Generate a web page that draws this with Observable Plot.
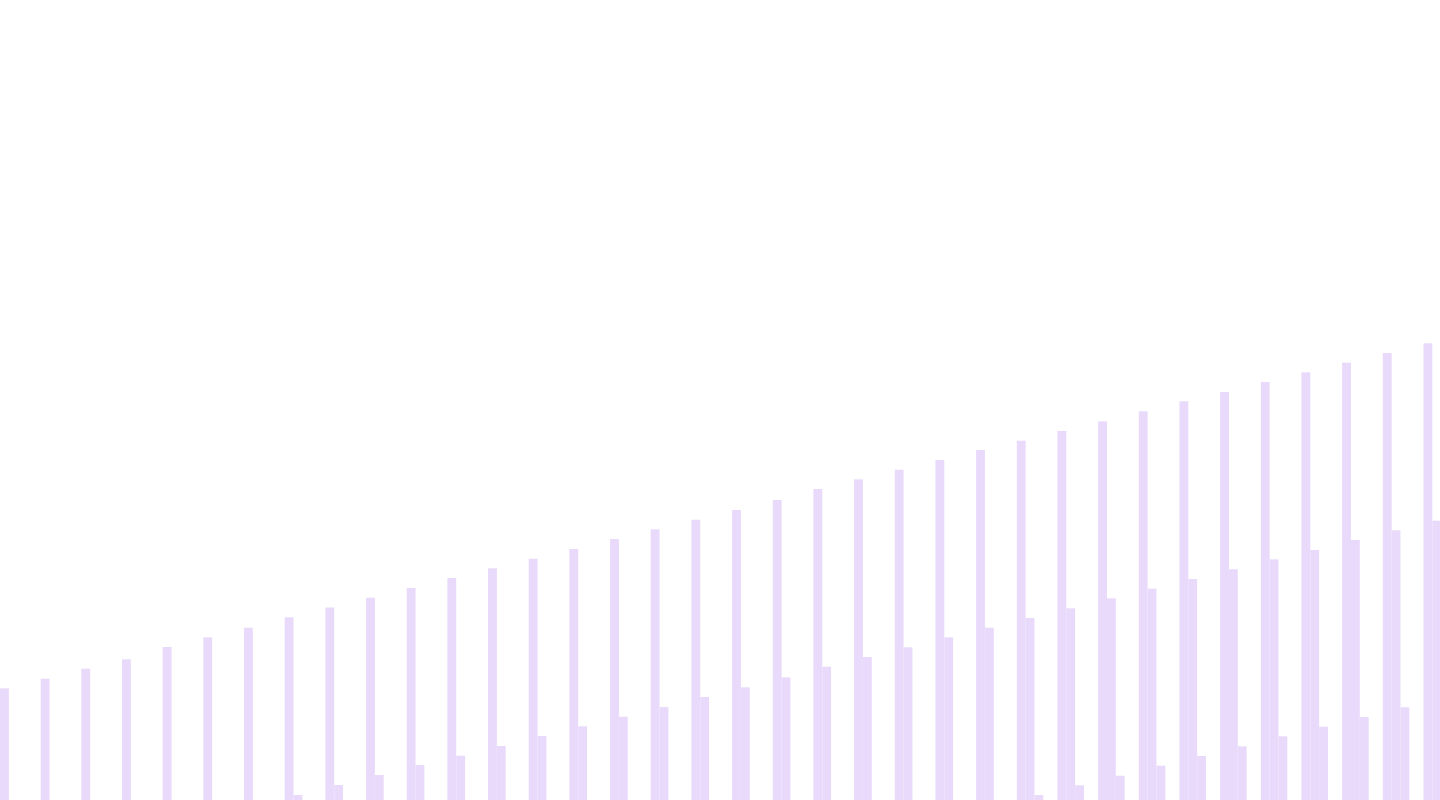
<!DOCTYPE html>
<html>
<head>
<meta charset="utf-8">
<script src="https://cdn.jsdelivr.net/npm/d3@7"></script>
<script src="https://cdn.jsdelivr.net/npm/@observablehq/plot@0.6"></script>
<style>
  html, body { margin: 0; padding: 0; background: #ffffff; overflow: hidden; width: 1440px; height: 800px; }
  #chart svg { display: block; max-width: none !important; }
</style>
</head>
<body>
<div id="chart"></div>
<script>
const groups = [1,2,3,4,5,6,7,8,9,10,11,12,13,14,15,16,17,18,19,20,21,22,23,24,25,26,27,28,29,30,31,32,33,34,35,36];
const seriesNames = ["A", "B", "C"];
const seriesA = [111.7,121.3,131.3,140.7,153,162.7,172.3,182.7,192.5,202.3,212,222,231.7,241.3,251,261,270.7,280.3,290,300,311,320.7,330.3,340,350,359.3,369,378.7,388.7,398.7,408,418,427.7,437.3,447,456.7];
const seriesB = [null,null,null,null,null,null,null,5,15,25,35,44.3,54,64,73.7,83.3,93,103,112.7,122.7,133.3,143,152.7,162.7,172.3,182,191.7,201.7,211.3,221,230.7,240.7,250,260,269.7,279.3];
const seriesC = [null,null,null,null,null,null,null,null,null,null,null,null,null,null,null,null,null,null,null,null,null,null,null,null,null,5,14.7,24.3,34.3,44,53.7,63.7,73.3,83,92.7,102];

const table = [];
[seriesA, seriesB, seriesC].forEach((vals, si) => {
  vals.forEach((v, i) => {
    if (v != null) table.push({group: groups[i], series: seriesNames[si], value: v});
  });
});

const chart = Plot.plot({
  width: 1450,
  height: 800,
  margin: 0,
  style: {background: "transparent"},
  fx: {axis: null, domain: groups, paddingInner: 0.348, paddingOuter: 0, align: 0, round: false},
  x: {axis: null, domain: seriesNames, padding: 0, round: false},
  y: {axis: null, domain: [0, 800]},
  marks: [
    Plot.barY(table, {fx: "group", x: "series", y: "value", fill: "#e9dafb"})
  ]
});
document.getElementById("chart").appendChild(chart);
</script>
</body>
</html>
